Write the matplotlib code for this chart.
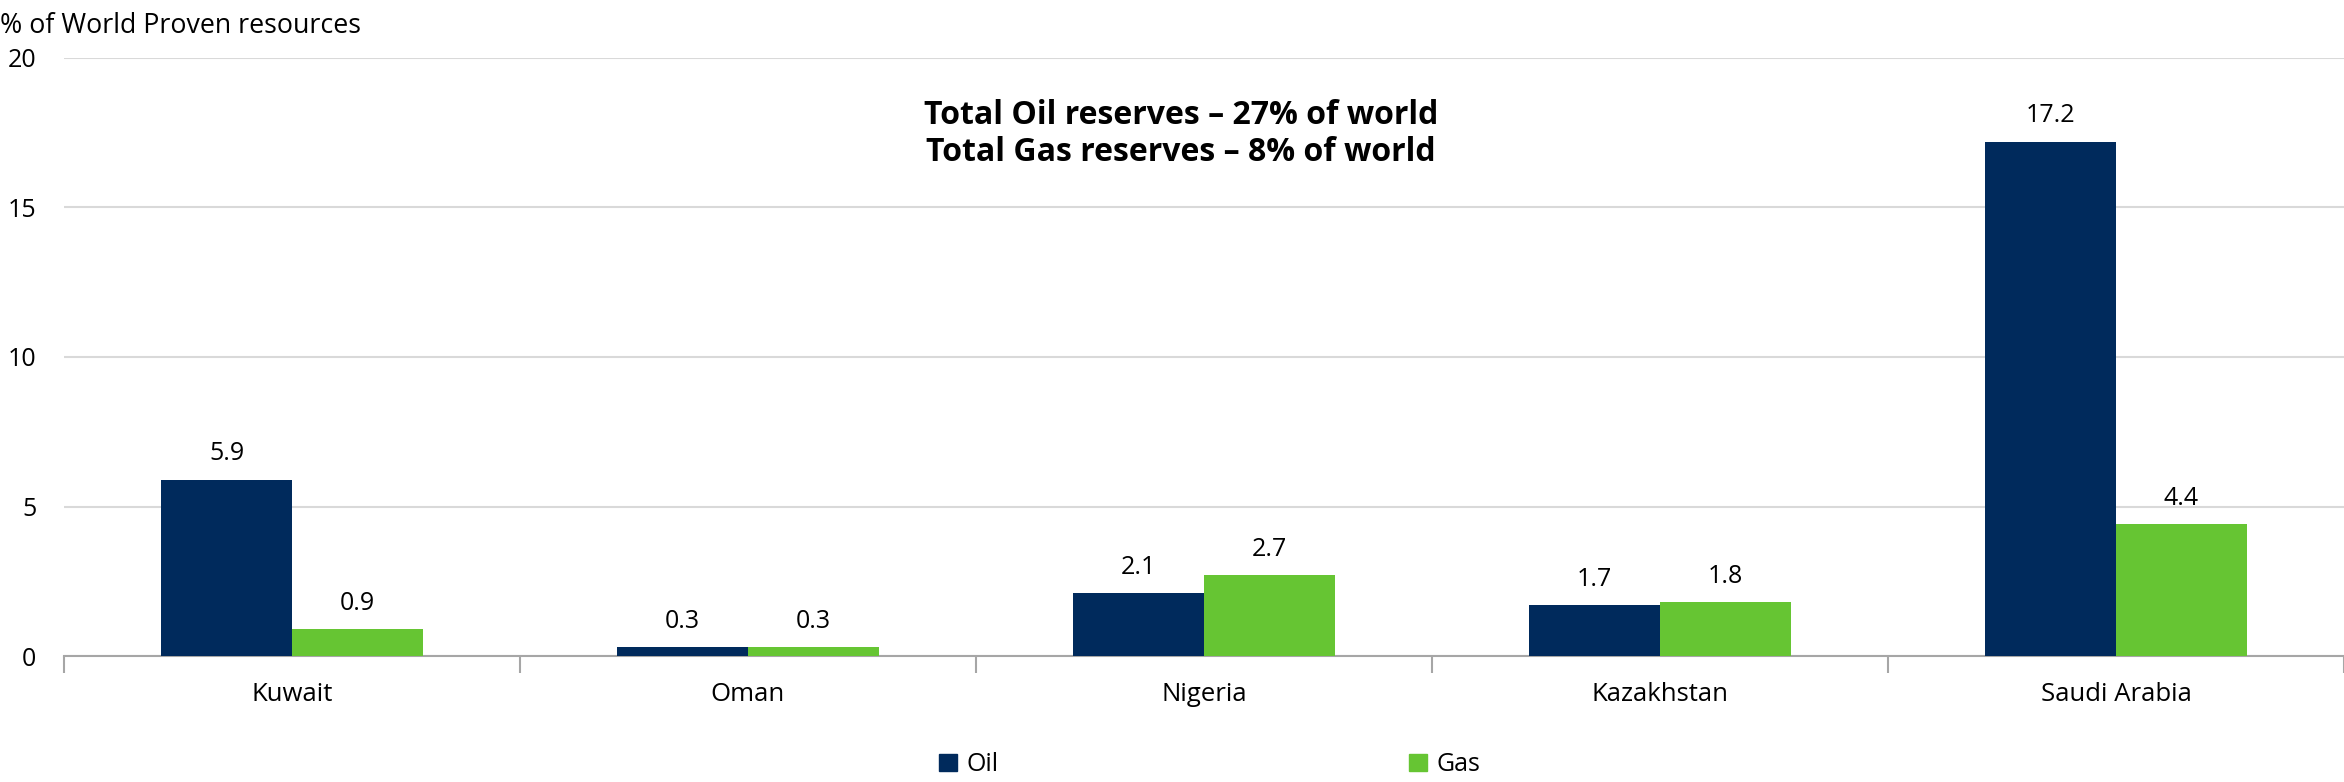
import matplotlib
matplotlib.use("Agg")
import matplotlib.pyplot as plt
import numpy as np
from matplotlib.patches import Patch

plt.rcParams['font.family'] = ['Open Sans', 'DejaVu Sans']

# data
countries = ["Kuwait", "Oman", "Nigeria", "Kazakhstan", "Saudi Arabia"]
oil = [5.9, 0.3, 2.1, 1.7, 17.2]
gas = [0.9, 0.3, 2.7, 1.8, 4.4]
y_ticks = [0, 5, 10, 15, 20]
note_lines = ["Total Oil reserves \u2013 27% of world",
              "Total Gas reserves \u2013 8% of world"]

OIL_COLOR = "#002A5C"
GAS_COLOR = "#66C533"

fig = plt.figure(figsize=(23.44, 7.82), dpi=100)
ax = fig.add_axes([0.0273, 0.161, 0.9727, 0.765])

x = np.arange(len(countries))
w = 0.287
ax.bar(x - w / 2, oil, w, color=OIL_COLOR, label="Oil", zorder=3)
ax.bar(x + w / 2, gas, w, color=GAS_COLOR, label="Gas", zorder=3)

for xi, v in zip(x - w / 2, oil):
    ax.text(xi, v + 0.45, f"{v:.1f}", ha="center", va="bottom", fontsize=18)
for xi, v in zip(x + w / 2, gas):
    ax.text(xi, v + 0.45, f"{v:.1f}", ha="center", va="bottom", fontsize=18)

ax.set_xlim(-0.5, len(countries) - 0.5)
ax.set_ylim(0, 20)
ax.set_yticks(y_ticks)
ax.set_yticklabels([str(t) for t in y_ticks], fontsize=18)
ax.tick_params(axis="y", length=0, pad=20)
ax.yaxis.grid(True, color="#d9d9d9", linewidth=1.5, zorder=0)
ax.set_axisbelow(True)

# category labels centred, tick marks on the boundaries
ax.set_xticks(x)
ax.set_xticklabels(countries, fontsize=18.5)
ax.tick_params(axis="x", length=0, pad=19)
ax.set_xticks(np.arange(-0.5, len(countries)), minor=True)
ax.tick_params(axis="x", which="minor", length=12, width=1.5, color="#a6a6a6")

for s in ["top", "right", "left"]:
    ax.spines[s].set_visible(False)
ax.spines["bottom"].set_color("#a6a6a6")
ax.spines["bottom"].set_linewidth(1.5)

ax.text(0.49, 0.873, "\n".join(note_lines), transform=ax.transAxes,
        ha="center", va="center", fontsize=23, fontweight="bold",
        linespacing=1.15)

fig.text(0.0, 0.985, "% of World Proven resources", ha="left", va="top",
         fontsize=19.3)

handles = [Patch(color=OIL_COLOR, label="Oil"), Patch(color=GAS_COLOR, label="Gas")]
fig.legend(handles=handles, loc="center", bbox_to_anchor=(0.516, 0.022),
           ncol=2, frameon=False, fontsize=18, handlelength=0.72,
           handleheight=0.72, handletextpad=0.4, columnspacing=16.4)

fig.savefig("out.png", dpi=100)
